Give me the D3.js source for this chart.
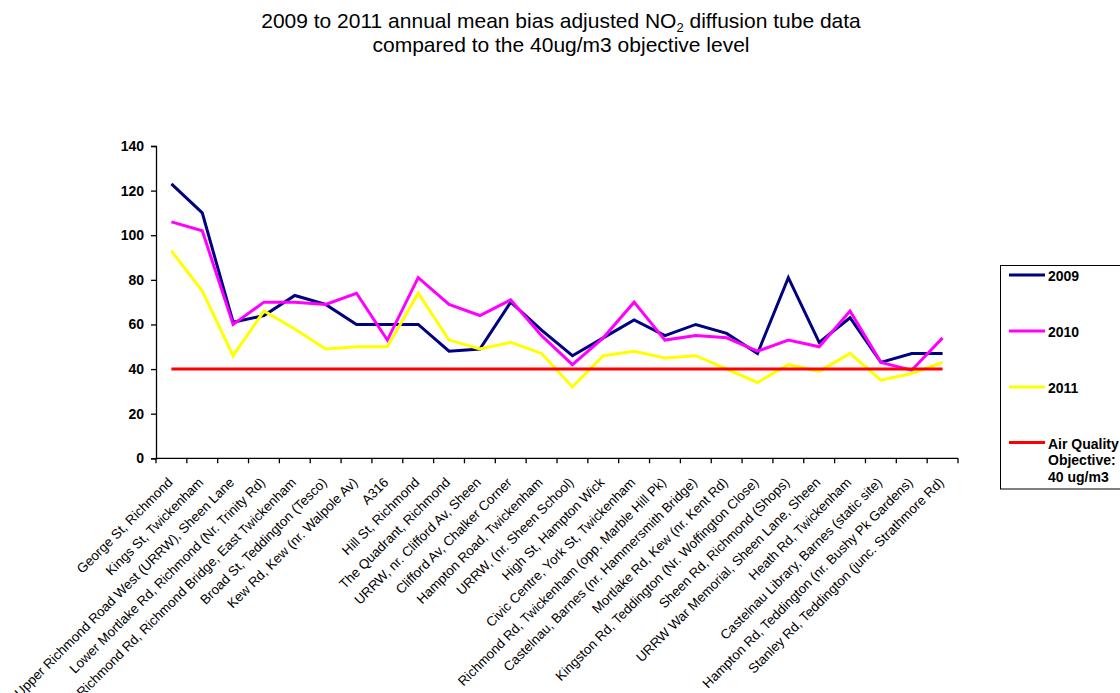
<!DOCTYPE html>
<html>
<head>
<meta charset="utf-8">
<script src="https://cdn.jsdelivr.net/npm/d3@7"></script>
<style>
  html, body { margin: 0; padding: 0; background: #fff; }
  svg { display: block; font-family: Arial, "Liberation Sans", sans-serif; }
</style>
</head>
<body>
<svg id="chart" width="1120" height="693"></svg>
<script>
// Monitoring sites (x categories)
const sites = [
  "George St, Richmond",
  "Kings St, Twickenham",
  "Upper Richmond Road West (URRW), Sheen Lane",
  "Lower Mortlake Rd, Richmond (Nr. Trinity Rd)",
  "Richmond Rd, Richmond Bridge, East Twickenham",
  "Broad St, Teddington (Tesco)",
  "Kew Rd, Kew (nr. Walpole Av)",
  "A316",
  "Hill St, Richmond",
  "The Quadrant, Richmond",
  "URRW, nr. Clifford Av, Sheen",
  "Clifford Av, Chalker Corner",
  "Hampton Road, Twickenham",
  "URRW, (nr. Sheen School)",
  "High St, Hampton Wick",
  "Civic Centre, York St, Twickenham",
  "Richmond Rd, Twickenham (opp. Marble Hill Pk)",
  "Castelnau, Barnes (nr. Hammersmith Bridge)",
  "Mortlake Rd, Kew (nr. Kent Rd)",
  "Kingston Rd, Teddington (Nr. Woffington Close)",
  "Sheen Rd, Richmond (Shops)",
  "URRW War Memorial, Sheen Lane, Sheen",
  "Heath Rd, Twickenham",
  "Castelnau Library, Barnes (static site)",
  "Hampton Rd, Teddington (nr. Bushy Pk Gardens)",
  "Stanley Rd, Teddington (junc. Strathmore Rd)"
];

// Annual mean bias adjusted NO2 (ug/m3)
const values2009 = [123, 110, 61, 64, 73, 69, 60, 60, 60, 48, 49, 70, 57.5, 46, 54, 62, 55, 60, 56, 47, 81, 52, 63, 43, 47, 47];
const values2010 = [106, 102, 60, 70, 70, 69, 74, 53, 81, 69, 64, 71, 55, 42, 54, 70, 53, 55, 54, 48, 53, 50, 66, 43, 39.5, 54];
const values2011 = [93, 75, 46, 66, 58, 49, 50, 50, 74, 53, 49, 52, 47, 32, 46, 48, 45, 46, 40, 34, 42, 39, 47, 35, 38, 43];
const objective = sites.map(() => 40);

const yTicks = [0, 20, 40, 60, 80, 100, 120, 140];

const seriesNames = ["2009", "2010", "2011", "Air Quality Objective: 40 ug/m3"];
const seriesColors = ["#000080", "#FF00FF", "#FFFF00", "#FF0000"];
const seriesValues = [values2009, values2010, values2011, objective];

const svg = d3.select("#chart");

const plot = { left: 156, right: 958, top: 146, bottom: 458.3 };

const x = d3.scaleBand().domain(sites).range([plot.left, plot.right]).padding(0);
const y = d3.scaleLinear().domain([0, 140]).range([plot.bottom, plot.top]);

// Title
const title = svg.append("text")
  .attr("x", 561).attr("y", 28)
  .attr("text-anchor", "middle")
  .style("font-size", "21px").style("fill", "#000");
title.append("tspan").text("2009 to 2011 annual mean bias adjusted NO");
title.append("tspan").attr("dy", 4).style("font-size", "13px").text("2");
title.append("tspan").attr("dy", -4).text(" diffusion tube data");
svg.append("text")
  .attr("x", 561).attr("y", 52)
  .attr("text-anchor", "middle")
  .style("font-size", "21px").style("fill", "#000")
  .text("compared to the 40ug/m3 objective level");

// Y axis
const yAxis = d3.axisLeft(y).tickValues(yTicks).tickSize(5).tickPadding(7).tickFormat(d3.format("d"));
const gy = svg.append("g").attr("transform", `translate(${plot.left},0)`).call(yAxis);
gy.select(".domain").attr("stroke", "#000").attr("stroke-width", 1.3);
gy.selectAll(".tick line").attr("stroke", "#000").attr("stroke-width", 1.3);
gy.selectAll(".tick text")
  .style("font-size", "14px").style("font-weight", "bold")
  .style("font-family", "Arial, 'Liberation Sans', sans-serif").attr("fill", "#000");

// X axis: ticks sit on category boundaries
const boundaries = d3.range(sites.length + 1).map(i => plot.left + i * x.bandwidth());
const gx = svg.append("g");
gx.append("line")
  .attr("x1", plot.left).attr("x2", plot.right)
  .attr("y1", plot.bottom).attr("y2", plot.bottom)
  .attr("stroke", "#000").attr("stroke-width", 1.3);
gx.selectAll("line.tick").data(boundaries).enter().append("line")
  .attr("class", "tick")
  .attr("x1", d => d).attr("x2", d => d)
  .attr("y1", plot.bottom).attr("y2", plot.bottom + 5)
  .attr("stroke", "#000").attr("stroke-width", 1.3);

gx.selectAll("text.cat").data(sites).enter().append("text")
  .attr("class", "cat")
  .attr("text-anchor", "end")
  .attr("transform", d => `translate(${x(d) + x.bandwidth() / 2 + 2},${plot.bottom + 25}) rotate(-45)`)
  .style("font-size", "13.4px").style("fill", "#000")
  .text(d => d);

// Series lines
const line = d3.line()
  .x((d, i) => x(sites[i]) + x.bandwidth() / 2)
  .y(d => y(d));

seriesValues.forEach((vals, k) => {
  svg.append("path")
    .datum(vals)
    .attr("fill", "none")
    .attr("stroke", seriesColors[k])
    .attr("stroke-width", 3)
    .attr("stroke-linejoin", "miter")
    .attr("d", line);
});

// Legend
const legend = svg.append("g");
legend.append("rect")
  .attr("x", 1000.5).attr("y", 265.5)
  .attr("width", 140).attr("height", 223.5)
  .attr("fill", "#fff").attr("stroke", "#000").attr("stroke-width", 1);

const legendRows = [275, 331, 387, 442.5];
seriesNames.forEach((name, k) => {
  const yy = legendRows[k];
  legend.append("line")
    .attr("x1", 1009).attr("x2", 1045)
    .attr("y1", yy).attr("y2", yy)
    .attr("stroke", seriesColors[k]).attr("stroke-width", 3);
  const lines = k === 3 ? ["Air Quality", "Objective:", "40 ug/m3"] : [name];
  lines.forEach((t, j) => {
    legend.append("text")
      .attr("x", 1048).attr("y", yy + 6 + j * 16.5)
      .style("font-size", "14px").style("font-weight", "bold").style("fill", "#000")
      .text(t);
  });
});
</script>
</body>
</html>
